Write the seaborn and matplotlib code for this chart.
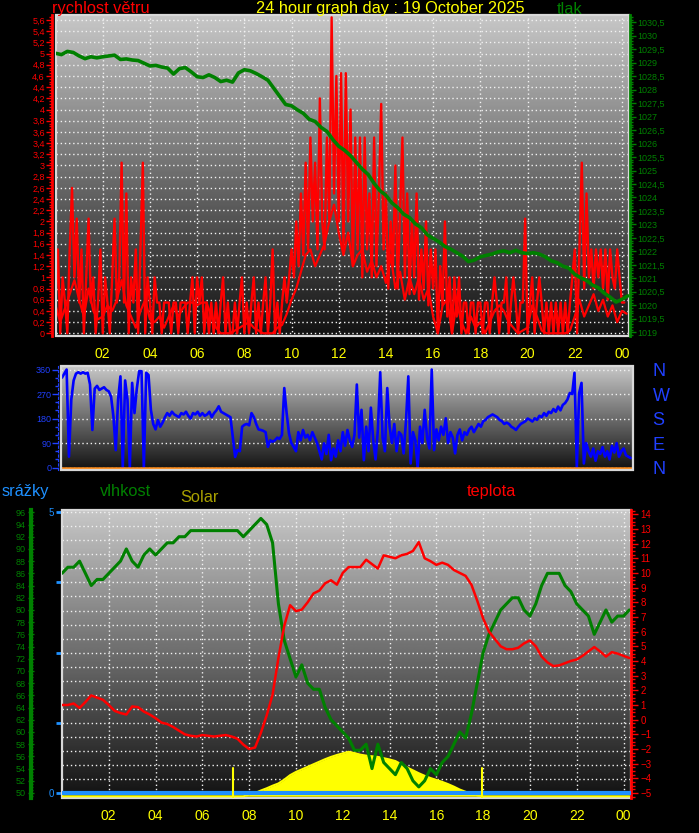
import numpy as np
import matplotlib.pyplot as plt
import seaborn as sns
from matplotlib.patches import Rectangle
from matplotlib.ticker import MultipleLocator, FuncFormatter

# values, hours since midnight

# wind gust (m/s), one value every 0.1 h
gust_step = 0.1
wind_gust = [
    0.55, 1.5, 0.0, 1.0, 0.55, 0.0, 1.5, 2.6, 1.0, 2.05,
    0.55, 1.5, 0.0, 1.0, 2.05, 0.55, 1.0, 0.0, 0.55, 1.5,
    0.0, 1.0, 0.55, 0.0, 1.0, 2.05, 0.55, 1.0, 3.05, 0.55,
    2.5, 0.0, 1.0, 0.55, 1.5, 0.0, 1.5, 3.05, 0.0, 1.0,
    0.55, 0.0, 1.0, 0.55, 0.55, 0.0, 0.55, 0.55, 0.55, 0.0,
    0.55, 0.55, 0.0, 0.55, 0.55, 0.55, 0.0, 0.55, 1.0, 0.0,
    1.0, 0.55, 1.0, 0.0, 0.55, 0.0, 0.55, 0.0, 0.55, 0.0,
    0.55, 1.0, 0.0, 0.55, 0.0, 0.0, 0.55, 0.0, 0.55, 1.0,
    0.0, 0.55, 0.0, 0.55, 1.0, 0.0, 0.55, 0.0, 0.55, 1.0,
    0.0, 0.55, 1.5, 0.0, 0.55, 0.0, 0.55, 1.0, 0.55, 1.0,
    1.5, 1.0, 2.0, 1.2, 2.5, 1.4, 3.05, 1.5, 3.5, 2.0,
    3.05, 1.5, 4.2, 2.0, 1.5, 3.5, 2.0, 5.65, 2.5, 4.6,
    2.0, 4.65, 1.5, 4.65, 2.0, 4.0, 1.2, 3.5, 1.5, 3.5,
    1.0, 3.5, 1.5, 2.5, 1.0, 3.5, 1.2, 2.5, 4.1, 1.5,
    2.5, 0.8, 2.0, 1.2, 3.0, 0.8, 2.2, 3.5, 1.0, 2.5,
    0.7, 2.0, 1.0, 2.5, 0.6, 1.5, 0.8, 2.0, 0.5, 1.5,
    0.8, 1.5, 0.0, 1.2, 0.5, 2.0, 0.3, 1.0, 0.0, 1.0,
    0.3, 1.0, 0.0, 0.55, 0.55, 0.0, 0.55, 0.55, 0.0, 0.55,
    0.55, 0.0, 0.55, 0.55, 0.0, 0.55, 1.0, 0.55, 0.0, 0.55,
    0.55, 1.0, 0.0, 0.55, 1.0, 0.55, 0.0, 0.55, 0.55, 2.05,
    0.0, 0.55, 1.0, 0.0, 0.55, 1.0, 0.55, 0.0, 0.55, 0.0,
    0.55, 0.0, 0.55, 0.0, 0.55, 0.0, 0.55, 0.0, 0.55, 1.0,
    1.5, 0.0, 1.5, 3.05, 0.8, 2.5, 1.0, 1.5, 0.8, 1.5,
    1.0, 1.5, 0.8, 1.5, 0.6, 1.5, 1.0, 0.8, 1.5, 1.0,
    0.55, 0.55,
]

# average wind (m/s), one value every 0.2 h
avg_step = 0.2
wind_avg = [
    0.5, 0.2, 0.45, 0.7, 0.95,
    0.6, 0.3, 0.8, 0.4, 0.25,
    0.3, 0.5, 0.4, 0.6, 0.95,
    0.5, 0.3, 0.1, 0.4, 0.6,
    0.25, 0.2, 0.3, 0.1, 0.3,
    0.5, 0.3, 0.45, 0.55, 0.55,
    0.5, 0.55, 0.55, 0.3, 0.1,
    0.0, 0.0, 0.0, 0.05, 0.1,
    0.15, 0.2, 0.1, 0.05, 0.0,
    0.0, 0.0, 0.1, 0.15, 0.35,
    0.6, 0.8, 1.1, 1.4, 1.5,
    1.2, 1.4, 1.6, 2.0, 2.3,
    1.8, 1.4, 1.8, 1.2, 1.4,
    1.5, 1.1, 1.3, 1.0, 1.2,
    0.9, 1.4, 0.8, 1.1, 0.6,
    1.0, 0.7, 1.0, 0.6, 0.8,
    0.3, 0.0, 0.5, 0.6, 0.0,
    0.55, 0.2, 0.0, 0.3, 0.1,
    0.2, 0.0, 0.2, 0.4, 0.5,
    0.4, 0.2, 0.1, 0.0, 0.05,
    0.1, 0.5, 0.3, 0.05, 0.0,
    0.0, 0.0, 0.0, 0.0, 0.05,
    0.3, 0.6, 0.3, 0.5, 0.7,
    0.4, 0.6, 0.3, 0.5, 0.2,
    0.4, 0.35,
]

# quarter-hour series
q_step = 0.25
pressure = [
    1029.35, 1029.30, 1029.42, 1029.38, 1029.25, 1029.15, 1029.22, 1029.18,
    1029.22, 1029.25, 1029.28, 1029.12, 1029.14, 1029.10, 1029.08, 1028.98,
    1028.88, 1028.90, 1028.84, 1028.80, 1028.58, 1028.78, 1028.82, 1028.66,
    1028.48, 1028.45, 1028.55, 1028.45, 1028.30, 1028.35, 1028.28, 1028.62,
    1028.74, 1028.70, 1028.60, 1028.48, 1028.35, 1028.05, 1027.75, 1027.45,
    1027.40, 1027.25, 1027.12, 1026.90, 1026.82, 1026.60, 1026.45, 1026.15,
    1025.90, 1025.75, 1025.55, 1025.30, 1025.05, 1024.85, 1024.52, 1024.25,
    1024.08, 1023.80, 1023.62, 1023.38, 1023.25, 1023.02, 1022.88, 1022.62,
    1022.48, 1022.35, 1022.18, 1022.08, 1021.95, 1021.82, 1021.62, 1021.68,
    1021.80, 1021.85, 1021.90, 1021.98, 1022.02, 1021.95, 1022.04, 1021.95,
    1021.92, 1021.95, 1021.90, 1021.80, 1021.65, 1021.58, 1021.45, 1021.38,
    1021.15, 1021.02, 1020.92, 1020.75, 1020.65, 1020.45, 1020.30, 1020.12,
    1020.22, 1020.35,
]
humidity = [
    86, 87, 87, 88, 86, 84, 85, 85,
    86, 87, 88, 90, 88, 87, 89, 90,
    89, 90, 91, 91, 92, 92, 93, 93,
    93, 93, 93, 93, 93, 93, 93, 92,
    93, 94, 95, 94, 91, 81, 75, 72,
    69, 71, 68, 67, 67, 64, 62, 61,
    60, 59, 57, 57, 58, 54, 58, 55,
    54, 53, 55, 54, 52, 51, 52, 54,
    53, 55, 56, 58, 60, 59, 63, 68,
    73, 76, 78, 80, 81, 82, 82, 80,
    79, 81, 84, 86, 86, 86, 84, 83,
    81, 80, 79, 76, 78, 80, 78, 79,
    79, 80,
]
temperature = [
    1.0, 1.0, 1.1, 0.8, 1.2, 1.65, 1.5, 1.35,
    1.0, 0.6, 0.45, 0.35, 0.9, 0.85, 0.55, 0.35,
    0.1, -0.2, -0.3, -0.5, -0.75, -1.0, -1.1, -1.15,
    -1.05, -1.1, -1.15, -1.1, -1.05, -1.15, -1.3, -1.7,
    -2.0, -1.9, -0.9, 0.3, 1.7, 4.2, 6.4, 7.8,
    7.4, 7.5, 8.0, 8.6, 8.8, 9.3, 9.5, 9.2,
    10.0, 10.4, 10.4, 10.4, 10.9, 10.6, 10.3, 11.2,
    11.1, 11.0, 11.2, 11.3, 11.5, 12.1, 11.0, 10.8,
    10.55, 10.7, 10.55, 10.2, 10.0, 9.8, 9.2, 8.1,
    6.9, 6.0, 5.5, 5.0, 4.8, 4.8, 4.9, 5.2,
    5.4, 5.0, 4.3, 3.9, 3.65, 3.7, 3.85, 4.0,
    4.1, 4.35, 4.65, 4.95, 4.65, 4.3, 4.6, 4.5,
    4.35, 4.2,
]
solar = [
    0, 0, 0, 0, 0, 0, 0, 0,
    0, 0, 0, 0, 0, 0, 0, 0,
    0, 0, 0, 0, 0, 0, 0, 0,
    0, 0, 0, 0, 0, 0, 0, 0,
    5, 10, 18, 25, 33, 40, 52, 66,
    76, 84, 92, 100, 108, 116, 123, 129,
    134, 139, 135, 130, 127, 125, 123, 119,
    115, 110, 100, 90, 81, 72, 64, 57,
    51, 45, 38, 30, 21, 14, 8, 3,
    0, 0, 0, 0, 0, 0, 0, 0,
    0, 0, 0, 0, 0, 0, 0, 0,
    0, 0, 0, 0, 0, 0, 0, 0,
    0, 0,
]

# wind direction (deg), one value every 0.1 h
dir_step = 0.1
wind_dir = [
    330, 345, 360, 40, 250, 320, 345, 350, 345, 350,
    345, 348, 305, 138, 290, 300, 285, 290, 295, 285,
    280, 260, 187, 64, 250, 335, 0, 320, 250, 0,
    311, 200, 290, 354, 354, 0, 348, 340, 212, 160,
    140, 175, 150, 165, 185, 200, 190, 205, 195, 190,
    185, 200, 195, 205, 190, 180, 200, 195, 205, 190,
    200, 190, 195, 205, 185, 200, 210, 225, 205, 200,
    195, 190, 185, 113, 39, 64, 60, 150, 157, 160,
    155, 200, 185, 160, 140, 138, 135, 130, 76, 100,
    95, 100, 110, 105, 120, 292, 200, 126, 90, 76,
    60, 130, 100, 138, 110, 120, 100, 130, 110, 90,
    60, 30, 89, 50, 120, 27, 70, 40, 100, 60,
    130, 80, 138, 100, 76, 120, 305, 110, 212, 27,
    150, 60, 220, 100, 30, 140, 350, 110, 60, 292,
    150, 90, 160, 60, 130, 120, 52, 170, 335, 15,
    130, 100, 0, 150, 90, 212, 110, 70, 360, 64,
    140, 100, 150, 120, 181, 90, 130, 110, 52, 120,
    140, 100, 130, 120, 140, 150, 130, 145, 160, 150,
    170, 175, 185, 190, 195, 190, 185, 175, 170, 160,
    165, 160, 150, 145, 138, 150, 160, 165, 170, 180,
    175, 169, 181, 175, 190, 185, 200, 190, 205, 200,
    215, 205, 224, 210, 230, 237, 250, 274, 270, 348,
    0, 274, 311, 15, 90, 60, 40, 70, 25, 60,
    50, 75, 40, 60, 30, 80, 55, 90, 40, 60,
    70, 45, 40, 35,
]

rain_hours = [0.0, 24.3]
rain = [0.0, 0.0]
sun_events = [7.32, 17.94]  # sunrise / sunset marks

hour_ticks = [2, 4, 6, 8, 10, 12, 14, 16, 18, 20, 22, 24]
hour_labels = ['02', '04', '06', '08', '10', '12', '14', '16', '18', '20', '22', '00']
compass_deg = [0, 90, 180, 270, 360]
compass = ['N', 'E', 'S', 'W', 'N']

sns.set_style('dark')
plt.rcParams['font.family'] = ['Liberation Sans', 'DejaVu Sans']

W, H = 699, 833
fig = plt.figure(figsize=(W / 100, H / 100), dpi=100, facecolor='black')

GRID = dict(color='#f2f2f2', linestyle=(0, (1, 2)), linewidth=1)


def px_axes(l, t, r, b):
    return fig.add_axes([l / W, 1 - b / H, (r - l) / W, (b - t) / H])


def shade(ax):
    grad = np.linspace(0.07, 0.78, 256).reshape(-1, 1)
    ax.imshow(grad, extent=[0, 1, 0, 1], transform=ax.transAxes, origin='lower',
              aspect='auto', cmap='gray', vmin=0, vmax=1, zorder=0)
    ax.set_facecolor('black')
    for s in ax.spines.values():
        s.set_visible(False)
    ax.add_patch(Rectangle((0, 0), 1, 1, transform=ax.transAxes, fill=False,
                           edgecolor='#d8d8d8', linewidth=1.6, clip_on=False, zorder=5))


def bare(ax):
    for s in ax.spines.values():
        s.set_visible(False)
    ax.set_xlabel('')
    ax.set_ylabel('')


def comma(v, pos):
    v = round(v, 2)
    if abs(v - round(v)) < 1e-6:
        return str(int(round(v)))
    return f'{v:.1f}'.replace('.', ',')


def hour_axis(ax, pad):
    ax.set_xticks(hour_ticks, hour_labels)
    ax.xaxis.set_minor_locator(MultipleLocator(0.5))
    ax.tick_params(axis='x', which='both', colors='#9a9a9a', length=3, width=1,
                   labelcolor='#ffff00', labelsize=10, pad=pad)


# ---------------- top: wind speed + pressure ----------------
ax1 = px_axes(56, 15, 629, 336)
shade(ax1)
sns.lineplot(x=np.arange(len(wind_gust)) * gust_step, y=wind_gust, ax=ax1,
             color='#ff0000', linewidth=1.7)
sns.lineplot(x=np.arange(len(wind_avg)) * avg_step, y=wind_avg, ax=ax1,
             color='#ff0000', linewidth=1.6)
ax1.set_xlim(0.02, 24.3)
ax1.set_ylim(-0.048, 5.69)
ax1.yaxis.set_major_locator(MultipleLocator(0.2))
ax1.yaxis.set_minor_locator(MultipleLocator(0.05))
ax1.yaxis.set_major_formatter(FuncFormatter(comma))
ax1.tick_params(axis='y', which='both', colors='#ff0000', labelsize=6.5, pad=1, width=1)
ax1.tick_params(axis='y', which='major', length=4)
ax1.tick_params(axis='y', which='minor', length=2)
ax1.spines['left'].set_visible(True)
ax1.spines['left'].set_color('#ff0000')
ax1.spines['left'].set_linewidth(2)
ax1.spines['left'].set_position(('outward', 3))
hour_axis(ax1, 5)
ax1.grid(True, which='major', **GRID)
ax1.set_axisbelow(True)
ax1.set_xlabel('')
ax1.set_ylabel('')

ax1p = ax1.twinx()
sns.lineplot(x=np.arange(len(pressure)) * q_step, y=pressure, ax=ax1p,
             color='#008000', linewidth=2.6)
bare(ax1p)
ax1p.set_ylim(1018.86, 1030.77)
ax1p.yaxis.set_major_locator(MultipleLocator(0.5))
ax1p.yaxis.set_minor_locator(MultipleLocator(0.1))
ax1p.yaxis.set_major_formatter(FuncFormatter(comma))
ax1p.tick_params(axis='y', which='both', colors='#008000', labelsize=6.5, pad=1, width=1)
ax1p.tick_params(axis='y', which='major', length=4)
ax1p.tick_params(axis='y', which='minor', length=2)
ax1p.spines['right'].set_visible(True)
ax1p.spines['right'].set_color('#008000')
ax1p.spines['right'].set_linewidth(2)
ax1p.spines['right'].set_position(('outward', 1))

# ---------------- middle: wind direction ----------------
ax2 = px_axes(61, 366, 633, 470)
shade(ax2)
ax2.axhline(0, color='#ff8c1a', linewidth=1.8, zorder=3)
sns.lineplot(x=np.arange(len(wind_dir)) * dir_step, y=wind_dir, ax=ax2,
             color='#0000ff', linewidth=1.9)
ax2.set_xlim(-0.04, 24.4)
ax2.set_ylim(-9, 373)
ax2.set_yticks(compass_deg)
ax2.yaxis.set_minor_locator(MultipleLocator(30))
ax2.tick_params(axis='y', which='both', colors='#2040ff', labelsize=6.5, pad=1, width=1)
ax2.tick_params(axis='y', which='major', length=4)
ax2.tick_params(axis='y', which='minor', length=2)
ax2.spines['left'].set_visible(True)
ax2.spines['left'].set_color('#2040ff')
ax2.spines['left'].set_linestyle((0, (2, 2)))
ax2.spines['left'].set_position(('outward', 2))
ax2.tick_params(axis='x', which='both', bottom=False, labelbottom=False)
ax2.grid(True, axis='y', **GRID)
ax2.grid(False, axis='x')
ax2.set_axisbelow(True)
ax2.set_xlabel('')
ax2.set_ylabel('')

ax2c = ax2.twinx()
bare(ax2c)
ax2c.set_ylim(-9, 373)
ax2c.set_yticks(compass_deg, compass)
ax2c.tick_params(axis='y', length=0, pad=14, labelsize=13, labelcolor='#2040ff')

# ---------------- bottom: rain, humidity, solar, temperature ----------------
ax3 = px_axes(62, 510, 631, 798)
shade(ax3)
ax3.set_xlim(0, 24.32)
ax3.set_ylim(-0.089, 5.04)
ax3.set_yticks([0, 1.25, 2.5, 3.75, 5], ['0', '', '', '', '5'])
ax3.yaxis.set_minor_locator(MultipleLocator(0.25))
ax3.tick_params(axis='y', which='major', colors='#1e90ff', length=4, width=2,
                labelsize=7, pad=2)
ax3.tick_params(axis='y', which='minor', length=0)
hour_axis(ax3, 5)
ax3.grid(True, axis='x', which='major', **GRID)
ax3.grid(True, axis='y', which='both', **GRID)
ax3.set_axisbelow(True)

ax3s = ax3.twinx()
ax3s.fill_between(np.arange(len(solar)) * q_step, solar, color='#ffff00', linewidth=0)
sns.lineplot(x=np.arange(len(solar)) * q_step, y=solar, ax=ax3s, color='#ffff00', linewidth=1.5)
bare(ax3s)
ax3s.set_ylim(-5.4, 894.6)
ax3s.set_yticks([])

ax3h = ax3.twinx()
sns.lineplot(x=np.arange(len(humidity)) * q_step, y=humidity, ax=ax3h,
             color='#008000', linewidth=2.2)
bare(ax3h)
ax3h.set_ylim(49.18, 96.38)
ax3h.yaxis.tick_left()
ax3h.yaxis.set_major_locator(MultipleLocator(2))
ax3h.yaxis.set_minor_locator(MultipleLocator(0.5))
ax3h.tick_params(axis='y', which='both', colors='#008000', labelsize=6.5, pad=1,
                 width=1, direction='inout')
ax3h.tick_params(axis='y', which='major', length=5)
ax3h.tick_params(axis='y', which='minor', length=3)
ax3h.spines['left'].set_visible(True)
ax3h.spines['left'].set_color('#008000')
ax3h.spines['left'].set_linewidth(3)
ax3h.spines['left'].set_position(('axes', -0.055))

ax3t = ax3.twinx()
sns.lineplot(x=np.arange(len(temperature)) * q_step, y=temperature, ax=ax3t,
             color='#ff0000', linewidth=1.8)
bare(ax3t)
ax3t.set_ylim(-5.34, 14.29)
ax3t.yaxis.set_major_locator(MultipleLocator(1))
ax3t.yaxis.set_minor_locator(MultipleLocator(0.25))
ax3t.tick_params(axis='y', which='both', colors='#ff0000', labelsize=7, pad=2, width=1)
ax3t.tick_params(axis='y', which='major', length=5)
ax3t.tick_params(axis='y', which='minor', length=3)
ax3t.spines['right'].set_visible(True)
ax3t.spines['right'].set_color('#ff0000')
ax3t.spines['right'].set_linewidth(2)

ax3r = ax3.twinx()
sns.lineplot(x=rain_hours, y=rain, ax=ax3r, color='#1e90ff', linewidth=3)
for h in sun_events:
    ax3r.axvline(h, ymin=0, ymax=0.105, color='#ffff00', linewidth=1.5)
bare(ax3r)
ax3r.set_ylim(-0.089, 5.04)
ax3r.set_yticks([])

# ---------------- headings ----------------
fig.text(52 / W, 1 - 9 / H, 'rychlost větru', color='#ff0000', fontsize=11.8, va='center')
fig.text(390 / W, 1 - 9 / H, '24 hour graph day : 19 October 2025', color='#ffff00',
         fontsize=11.8, va='center', ha='center')
fig.text(557 / W, 1 - 9 / H, 'tlak', color='#008000', fontsize=11.8, va='center')
fig.text(2 / W, 1 - 491 / H, 'srážky', color='#1e90ff', fontsize=11.8, va='center')
fig.text(100 / W, 1 - 491 / H, 'vlhkost', color='#008000', fontsize=11.8, va='center')
fig.text(180 / W, 1 - 498 / H, 'Solar', color='#a8a000', fontsize=11.8, va='center')
fig.text(467 / W, 1 - 491 / H, 'teplota', color='#ff0000', fontsize=11.8, va='center')

fig.savefig('out.png', dpi=100, facecolor='black')
